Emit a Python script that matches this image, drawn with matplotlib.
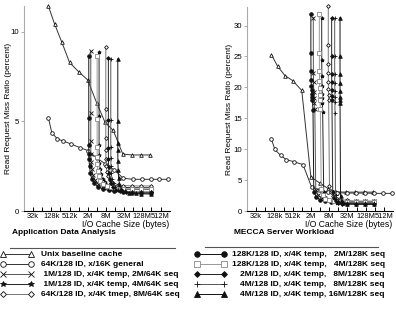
import matplotlib
matplotlib.use("Agg")
import matplotlib.pyplot as plt
from matplotlib.ticker import NullFormatter

plt.rcParams["font.family"] = ["Liberation Sans", "DejaVu Sans"]

# cache sizes in MB, miss ratios in percent
unix_mb = [0.1, 0.16, 0.28, 0.5, 1, 2, 4, 7.5, 14, 29, 58, 117, 232]
unix_app = [11.45, 10.45, 9.42, 8.3, 7.78, 7.32, 6.02, 4.95, 4.5, 3.18, 3.13, 3.13, 3.13]
unix_mecca = [25.3, 23.4, 21.9, 21.1, 19.5, 5.5, 4.5, 3.6, 3.1, 3.05, 3.05, 3.05, 3.05]

gen_mb = [0.1, 0.13, 0.2, 0.31, 0.57, 1.1, 2.1, 4, 7.5, 15, 30, 62, 124, 244, 470, 940]
gen_app = [5.21, 4.37, 4.02, 3.91, 3.74, 3.54, 3.37, 2.95, 2.65, 2.3, 1.83, 1.77, 1.77, 1.77, 1.77, 1.77]
gen_mecca = [11.6, 9.95, 9.0, 8.3, 7.95, 7.5, 3.9, 3.4, 3.0, 2.95, 2.9, 2.9, 2.9, 2.85, 2.85, 2.85]

# application data analysis
x2m64_app_mb = [2.53, 2.53, 2.53, 2.55, 2.6, 2.75, 3.0, 3.5, 4.4, 6.2, 10, 15, 30, 60, 120, 240]
x2m64_app = [8.94, 5.5, 3.9, 3.2, 2.75, 2.35, 2.0, 1.72, 1.52, 1.38, 1.3, 1.25, 1.22, 1.2, 1.2, 1.2]
x4m64_app_mb = [4.76, 4.76, 4.76, 4.8, 4.9, 5.1, 5.5, 6.2, 7.6, 10, 15, 30, 60, 120, 240]
x4m64_app = [8.86, 5.3, 3.7, 3.1, 2.7, 2.35, 2.05, 1.8, 1.6, 1.45, 1.37, 1.32, 1.3, 1.3, 1.3]
x8m64_app_mb = [7.94, 7.94, 7.94, 7.94, 8.0, 8.2, 8.6, 9.4, 11, 14, 20, 30, 60, 120, 240]
x8m64_app = [9.15, 5.7, 4.1, 3.4, 2.9, 2.5, 2.2, 1.95, 1.75, 1.58, 1.47, 1.42, 1.4, 1.4, 1.4]
s2m128_app_mb = [2.17, 2.17, 2.17, 2.18, 2.2, 2.3, 2.45, 2.75, 3.3, 4.4, 6.5, 10, 15, 30, 60, 120, 240]
s2m128_app = [8.65, 5.2, 3.7, 3.2, 2.9, 2.5, 2.1, 1.77, 1.55, 1.36, 1.23, 1.15, 1.1, 1.05, 1.02, 1.0, 1.0]
s4m128_app_mb = [4.1, 4.1, 4.1, 4.12, 4.2, 4.35, 4.6, 5.1, 6.2, 8.5, 12, 17, 30, 60, 120, 240]
s4m128_app = [8.66, 5.15, 3.56, 3.0, 2.6, 2.25, 1.95, 1.7, 1.52, 1.4, 1.32, 1.28, 1.25, 1.24, 1.23, 1.23]
a8m128_app_mb = [9.65, 9.65, 9.65, 9.7, 9.8, 10.1, 10.6, 11.5, 13.5, 17, 24, 38, 60, 120, 240]
a8m128_app = [8.55, 5.08, 3.5, 2.9, 2.45, 2.1, 1.8, 1.55, 1.35, 1.2, 1.12, 1.08, 1.05, 1.05, 1.05]
b8m128_app_mb = [11.6, 11.6, 11.6, 11.65, 11.8, 12.1, 12.7, 13.8, 16, 20, 30, 60, 120, 240]
b8m128_app = [8.5, 5.1, 3.6, 2.95, 2.5, 2.1, 1.8, 1.55, 1.35, 1.2, 1.1, 1.06, 1.05, 1.05]
s16m128_app_mb = [19.8, 19.8, 19.8, 19.8, 19.9, 20.3, 21, 22.5, 26, 33, 48, 80, 120, 240]
s16m128_app = [8.5, 5.05, 3.8, 3.4, 2.8, 2.3, 1.85, 1.5, 1.25, 1.1, 1.02, 0.98, 0.96, 0.95]

# MECCA server workload
x2m64_mecca_mb = [2.4, 2.42, 2.45, 2.5, 2.55, 2.6, 2.7, 2.9, 3.5, 4.5, 6.5, 10, 15, 30, 60, 120, 240]
x2m64_mecca = [31.3, 22.4, 20.8, 19.3, 18.2, 17.5, 16.5, 3.4, 2.6, 2.1, 1.8, 1.65, 1.6, 1.55, 1.55, 1.55, 1.55]
x4m64_mecca_mb = [4.55, 4.57, 4.6, 4.65, 4.7, 4.75, 4.8, 4.9, 5.3, 6, 7.5, 10, 15, 30, 60, 120, 240]
x4m64_mecca = [31.2, 24.5, 21.8, 20.2, 19.0, 18.2, 17.4, 16.0, 3.0, 2.2, 1.7, 1.45, 1.3, 1.25, 1.22, 1.22, 1.22]
x8m64_mecca_mb = [7.5, 7.5, 7.5, 7.52, 7.55, 7.6, 7.65, 7.7, 8.2, 9, 11, 15, 30, 60, 120, 240]
x8m64_mecca = [33.1, 26.8, 23.8, 22.4, 20.8, 19.8, 18.8, 18.0, 4.0, 3.0, 2.4, 2.0, 1.7, 1.6, 1.6, 1.6]
s2m128_mecca_mb = [2.0, 2.0, 2.02, 2.04, 2.07, 2.1, 2.14, 2.2, 2.25, 2.35, 2.5, 3.0, 4.0, 6, 9, 15, 30, 60, 120, 240]
s2m128_mecca = [31.9, 25.5, 22.6, 21.2, 20.3, 19.6, 18.9, 18.4, 17.9, 16.3, 3.1, 2.3, 1.8, 1.6, 1.5, 1.45, 1.45, 1.45, 1.45, 1.45]
s4m128_mecca_mb = [3.8, 3.8, 3.82, 3.85, 3.9, 3.95, 4.0, 4.1, 4.4, 5.0, 6.0, 8, 12, 17, 30, 60, 120, 240]
s4m128_mecca = [31.9, 25.5, 22.6, 21.1, 19.9, 18.7, 17.9, 16.5, 3.5, 2.6, 2.0, 1.7, 1.55, 1.5, 1.48, 1.48, 1.48, 1.48]
a8m128_mecca_mb = [9.7, 9.7, 9.72, 9.75, 9.8, 9.85, 9.9, 10.5, 11.5, 13, 16, 22, 30, 60, 120, 240]
a8m128_mecca = [31.2, 25.0, 22.1, 20.8, 19.6, 18.6, 17.9, 3.0, 2.1, 1.6, 1.35, 1.2, 1.15, 1.12, 1.12, 1.12]
b8m128_mecca_mb = [12.2, 12.2, 12.2, 12.25, 12.3, 12.35, 12.4, 12.5, 13, 14, 16, 20, 30, 60, 120, 240]
b8m128_mecca = [31.2, 25.0, 22.1, 20.7, 19.4, 18.4, 17.7, 15.8, 2.6, 1.9, 1.6, 1.45, 1.35, 1.3, 1.3, 1.3]
s16m128_mecca_mb = [18.3, 18.3, 18.3, 18.3, 18.3, 18.3, 18.3, 18.3, 19, 20.5, 23, 30, 60, 120, 240]
s16m128_mecca = [31.3, 25.1, 22.1, 20.7, 19.4, 18.4, 17.9, 17.5, 2.5, 1.6, 1.3, 1.15, 1.1, 1.08, 1.08]

labels_left = ["Unix baseline cache",
               "64K/128 ID, x/16K general",
               " 1M/128 ID, x/4K temp, 2M/64K seq",
               " 1M/128 ID, x/4K temp, 4M/64K seq",
               "64K/128 ID, x/4K tmep, 8M/64K seq"]
labels_right = ["128K/128 ID, x/4K temp,   2M/128K seq",
                "128K/128 ID, x/4K temp,   4M/128K seq",
                "2M/128 ID, x/4K temp,   8M/128K seq",
                "4M/128 ID, x/4K temp,   8M/128K seq",
                "4M/128 ID, x/4K temp, 16M/128K seq"]

tick_pos = [2**15, 2**17, 2**19, 2**21, 2**23, 2**25, 2**27, 2**29]
tick_lab = ["32k", "128k", "512k", "2M", "8M", "32M", "128M", "512M"]

# marker, filled, line colour
styles = [("^", False, "#333333"), ("o", False, "#333333"), ("x", True, "#555555"),
          ("*", True, "#222222"), ("D", False, "#777777"),
          ("o", True, "#111111"), ("s", False, "#999999"), ("D", True, "#222222"),
          ("+", True, "#555555"), ("^", True, "#111111")]

app = [(unix_mb, unix_app), (gen_mb, gen_app), (x2m64_app_mb, x2m64_app),
       (x4m64_app_mb, x4m64_app), (x8m64_app_mb, x8m64_app),
       (s2m128_app_mb, s2m128_app), (s4m128_app_mb, s4m128_app),
       (a8m128_app_mb, a8m128_app), (b8m128_app_mb, b8m128_app),
       (s16m128_app_mb, s16m128_app)]
mecca = [(unix_mb, unix_mecca), (gen_mb, gen_mecca), (x2m64_mecca_mb, x2m64_mecca),
         (x4m64_mecca_mb, x4m64_mecca), (x8m64_mecca_mb, x8m64_mecca),
         (s2m128_mecca_mb, s2m128_mecca), (s4m128_mecca_mb, s4m128_mecca),
         (a8m128_mecca_mb, a8m128_mecca), (b8m128_mecca_mb, b8m128_mecca),
         (s16m128_mecca_mb, s16m128_mecca)]

W, H = 396, 326
fig = plt.figure(figsize=(W / 100, H / 100), dpi=100)


def style_kw(st, ms):
    m, filled, c = st
    size = ms * (0.75 if m == "D" else 1.0)
    kw = dict(marker=m, color=c, markersize=size, markeredgewidth=0.6,
              markeredgecolor="#111111" if c != "#999999" else "#888888")
    if not filled:
        kw["markerfacecolor"] = "white"
    else:
        kw["markerfacecolor"] = kw["markeredgecolor"]
    return kw


def panel(rect, series, ymax, yticks, title, tx, ylab_x):
    ax = fig.add_axes(rect)
    for (xs, ys), st in zip(series, styles):
        ax.plot([v * 2**20 for v in xs], ys, lw=0.7, clip_on=False, **style_kw(st, 2.6))
    ax.set_xscale("log", base=2)
    ax.set_xlim(2**14, 2**30)
    ax.set_ylim(0, ymax)
    ax.set_xticks(tick_pos)
    ax.set_xticklabels(tick_lab)
    ax.set_xticks([2**k for k in range(16, 30, 2)], minor=True)
    ax.xaxis.set_minor_formatter(NullFormatter())
    ax.set_yticks(yticks)
    for s in ("top", "right"):
        ax.spines[s].set_visible(False)
    ax.spines["left"].set_color("#aaaaaa")
    ax.spines["left"].set_linewidth(0.8)
    ax.spines["bottom"].set_linewidth(0.8)
    ax.tick_params(axis="x", which="both", direction="in", length=3, width=0.7,
                   pad=1.5, labelsize=5.4)
    ax.tick_params(axis="y", direction="out", length=2.5, width=0.7, color="#aaaaaa",
                   pad=0.8, labelsize=5.6)
    ax.set_xlabel("I/O Cache Size (bytes)", fontsize=6.2, ha="right")
    ax.xaxis.set_label_coords(0.995, -0.046)
    ax.set_ylabel("Read Request Miss Ratio (percent)", fontsize=6.0)
    ax.yaxis.set_label_coords(ylab_x, 0.5)
    fig.text(tx / W, 1 - 233 / H, title, fontsize=6, fontweight="bold", va="center")
    return ax


panel([24 / W, 1 - 211 / H, 145.6 / W, 205 / H], app, 11.45, [0, 5, 10],
      "Application Data Analysis", 12, -0.085)
panel([247 / W, 1 - 211 / H, 146 / W, 204 / H], mecca, 33, [0, 5, 10, 15, 20, 25, 30],
      "MECCA Server Workload", 234, -0.095)

# separators and key, in pixel coordinates
key = fig.add_axes([0, 0, 1, 1])
key.set_xlim(0, W)
key.set_ylim(H, 0)
key.axis("off")
key.plot([10, 175], [248, 248], color="#555555", lw=0.8)
key.plot([205, 378], [247, 247], color="#555555", lw=0.8)
rows = [254, 264, 274, 284, 294]
for i, (lab, y) in enumerate(zip(labels_left, rows)):
    key.plot([3, 31], [y, y], lw=0.7, **style_kw(styles[i], 4))
    key.text(41, y, lab, fontsize=6, fontweight="bold", va="center", ha="left")
for i, (lab, y) in enumerate(zip(labels_right, rows)):
    key.plot([197, 224], [y, y], lw=0.7, **style_kw(styles[5 + i], 4))
    key.text(385, y, lab, fontsize=6, fontweight="bold", va="center", ha="right")

fig.savefig("out.png", dpi=100)
